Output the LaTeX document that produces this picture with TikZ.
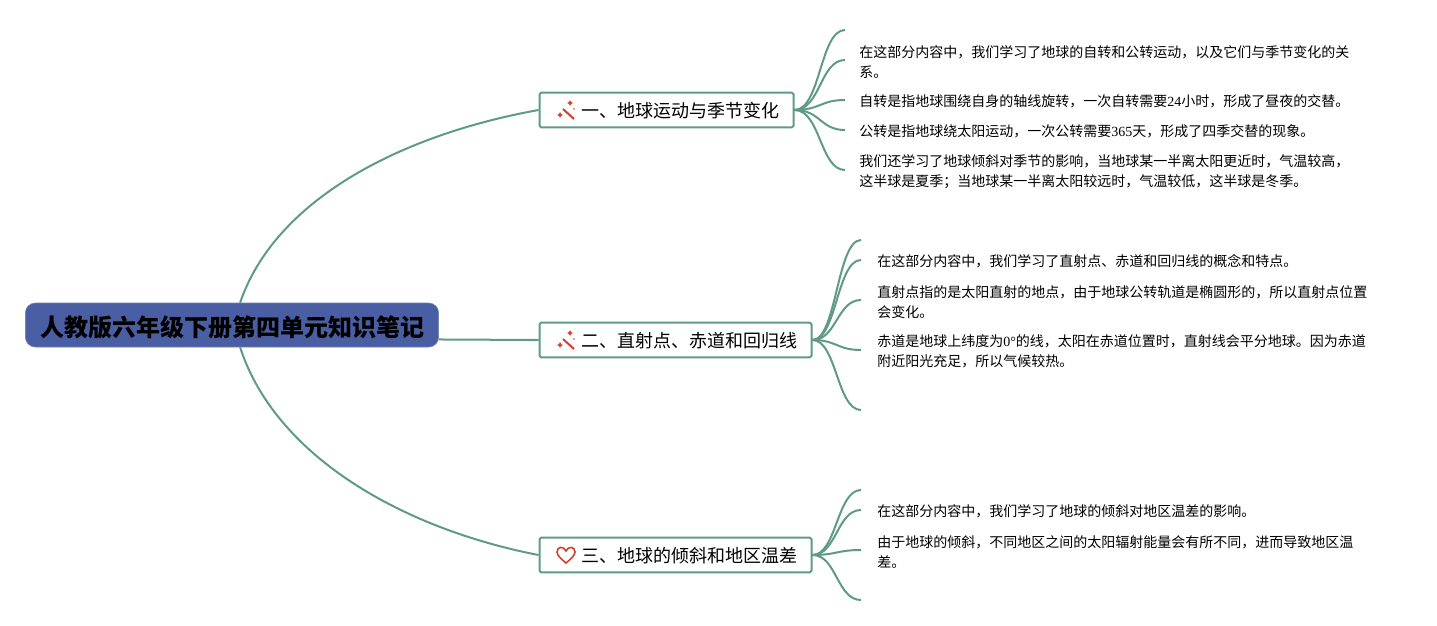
\documentclass[tikz,border=0pt]{standalone}
\usepackage{fontspec}
\setmainfont{Noto Sans CJK SC}
\newfontfamily\latinfont{Liberation Serif}
\newcommand{\lat}[1]{{\latinfont #1}}
\definecolor{linkgreen}{HTML}{5F9A86}
\definecolor{rootblue}{HTML}{4A5EA3}
\definecolor{iconred}{HTML}{D2402F}
\newcommand{\wandicon}[1]{%
  \begin{scope}[shift={#1}]
    \draw[iconred,line width=1.5pt] (-3,-1) -- (8,9);
    \fill[iconred] (4,-10) -- (5,-8) -- (7,-7) -- (5,-6) -- (4,-4) -- (3,-6) -- (1,-7) -- (3,-8) -- cycle;
    \fill[iconred] (-6,2) -- (-5,4) -- (-3,5) -- (-5,6) -- (-6,8) -- (-7,6) -- (-9,5) -- (-7,4) -- cycle;
    \fill[iconred] (8,-1) circle (.8);
  \end{scope}%
}
\newcommand{\hearticon}[1]{%
  \begin{scope}[shift={#1}]
    \draw[iconred,line width=1.2pt] (0,8) .. controls (-5,4) and (-9,0) .. (-9,-3)
      .. controls (-9,-9) and (-2,-9) .. (0,-4)
      .. controls (2,-9) and (9,-9) .. (9,-3)
      .. controls (9,0) and (5,4) .. (0,8) -- cycle;
  \end{scope}%
}
\tikzset{
  link/.style={linkgreen,line width=1.5pt},
  rootbox/.style={fill=rootblue,draw=rootblue!80!white,rounded corners=7.5pt,minimum width=310pt,minimum height=33pt,inner sep=0pt,text height=18pt,text depth=1.3pt,font=\fontsize{18pt}{22pt}\selectfont\bfseries},
  topicbox/.style={draw=linkgreen,line width=1.5pt,fill=white,rounded corners=1.2pt,minimum height=26pt,inner ysep=0pt,text height=13pt,text depth=1.3pt,font=\fontsize{13.5pt}{16pt}\selectfont},
  leaf/.style={anchor=west,align=left,inner sep=0pt,font=\fontsize{10.5pt}{15pt}\selectfont}
}
\begin{document}
\begin{tikzpicture}[x=0.75pt, y=-0.75pt]
\useasboundingbox (0,0) rectangle (1437,625);

\node[rootbox] (root) at (232,325) {人教版六年级下册第四单元知识笔记};

\node[topicbox,minimum width=190.5pt] (topicA) at (666.5,110) {\hspace*{21pt}一、地球运动与季节变化};
\node[topicbox,minimum width=204pt] (topicB) at (675.5,340) {\hspace*{21.5pt}二、直射点、赤道和回归线};
\node[topicbox,minimum width=204pt] (topicC) at (675.5,555) {\hspace*{21.5pt}三、地球的倾斜和地区温差};

\wandicon{(566,110)}
\wandicon{(566,340)}
\hearticon{(566,555)}

\draw[link] (root.70) .. controls (275,200) and (400,135) .. (topicA.west);
\draw[link] (root.-4) -- (topicB.west);
\draw[link] (root.-70) .. controls (275,455) and (400,528) .. (topicC.west);

\coordinate (endA1) at (845,30);
\coordinate (endA2) at (845,60);
\coordinate (endA3) at (845,100);
\coordinate (endA4) at (845,130);
\coordinate (endA5) at (845,170);
\draw[link] (topicA.east) .. controls +(26,0) and +(-25,0) .. (endA1);
\draw[link] (topicA.east) .. controls +(26,0) and +(-25,0) .. (endA2);
\draw[link] (topicA.east) .. controls +(26,0) and +(-25,0) .. (endA3);
\draw[link] (topicA.east) .. controls +(26,0) and +(-25,0) .. (endA4);
\draw[link] (topicA.east) .. controls +(26,0) and +(-25,0) .. (endA5);

\coordinate (endB1) at (861,240);
\coordinate (endB2) at (861,260);
\coordinate (endB3) at (861,300);
\coordinate (endB4) at (861,350);
\coordinate (endB5) at (861,410);
\draw[link] (topicB.east) .. controls +(24,0) and +(-24,0) .. (endB1);
\draw[link] (topicB.east) .. controls +(24,0) and +(-24,0) .. (endB2);
\draw[link] (topicB.east) .. controls +(24,0) and +(-24,0) .. (endB3);
\draw[link] (topicB.east) .. controls +(24,0) and +(-24,0) .. (endB4);
\draw[link] (topicB.east) .. controls +(24,0) and +(-24,0) .. (endB5);

\coordinate (endC1) at (861,490);
\coordinate (endC2) at (861,510);
\coordinate (endC3) at (861,550);
\coordinate (endC4) at (861,600);
\draw[link] (topicC.east) .. controls +(24,0) and +(-24,0) .. (endC1);
\draw[link] (topicC.east) .. controls +(24,0) and +(-24,0) .. (endC2);
\draw[link] (topicC.east) .. controls +(24,0) and +(-24,0) .. (endC3);
\draw[link] (topicC.east) .. controls +(24,0) and +(-24,0) .. (endC4);

\node[leaf] (noteA1) at (859,61.7) {在这部分内容中，我们学习了地球的自转和公转运动，以及它们与季节变化的关\\系。};
\node[leaf] (noteA2) at (859,101.7) {自转是指地球围绕自身的轴线旋转，一次自转需要\lat{24}小时，形成了昼夜的交替。};
\node[leaf] (noteA3) at (859,131.7) {公转是指地球绕太阳运动，一次公转需要\lat{365}天，形成了四季交替的现象。};
\node[leaf] (noteA4) at (859,171.7) {我们还学习了地球倾斜对季节的影响，当地球某一半离太阳更近时，气温较高，\\这半球是夏季；当地球某一半离太阳较远时，气温较低，这半球是冬季。};

\node[leaf] (noteB1) at (877,261.7) {在这部分内容中，我们学习了直射点、赤道和回归线的概念和特点。};
\node[leaf] (noteB2) at (877,301.7) {直射点指的是太阳直射的地点，由于地球公转轨道是椭圆形的，所以直射点位置\\会变化。};
\node[leaf] (noteB3) at (877,351.7) {赤道是地球上纬度为\lat{0°}的线，太阳在赤道位置时，直射线会平分地球。因为赤道\\附近阳光充足，所以气候较热。};

\node[leaf] (noteC1) at (877,511.7) {在这部分内容中，我们学习了地球的倾斜对地区温差的影响。};
\node[leaf] (noteC2) at (877,551.7) {由于地球的倾斜，不同地区之间的太阳辐射能量会有所不同，进而导致地区温\\差。};

\end{tikzpicture}
\end{document}
